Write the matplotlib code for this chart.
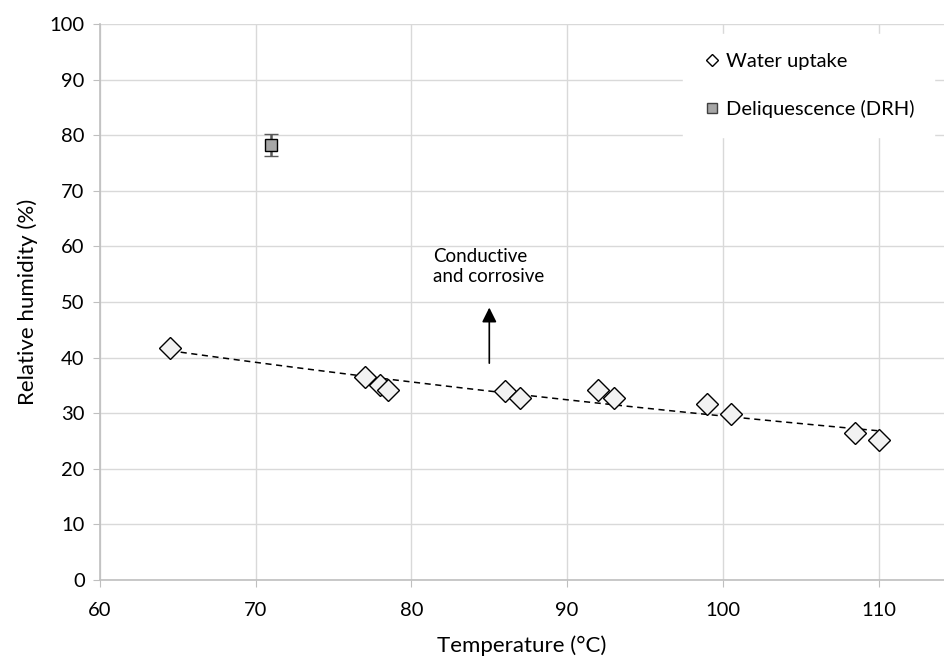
import numpy as np
import matplotlib.pyplot as plt
from matplotlib.lines import Line2D

plt.rcParams['font.family'] = ['Lato', 'DejaVu Sans']

# water uptake measurements
temp_uptake = [64.5, 77, 78, 78.5, 86, 87, 92, 93, 99, 100.5, 108.5, 110]
rh_uptake = [41.7, 36.5, 35.0, 34.2, 34.0, 32.8, 34.1, 32.7, 31.6, 29.9, 26.4, 25.2]

# deliquescence point
temp_drh = [71]
rh_drh = [78.2]
rh_drh_err = [2.0]

x_ticks = [60, 70, 80, 90, 100, 110]
y_ticks = list(range(0, 101, 10))

fig = plt.figure(figsize=(9.44, 6.58), dpi=100)
ax = fig.add_axes([100 / 944, 78 / 658, 844 / 944, 556 / 658])

# exponential trendline like excel
coef = np.polyfit(temp_uptake, np.log(rh_uptake), 1)
xs = np.linspace(min(temp_uptake), max(temp_uptake), 100)
ax.plot(xs, np.exp(np.polyval(coef, xs)), ls=(0, (4, 3)), color='black', lw=1.1, zorder=2)

ax.plot(temp_uptake, rh_uptake, 'D', ms=11, mfc='#f2f2f2', mec='black', mew=1.0, zorder=3)
ax.errorbar(temp_drh, rh_drh, yerr=rh_drh_err, fmt='s', ms=8, mfc='#a6a6a6', mec='black',
            mew=1.0, ecolor='#595959', elinewidth=1.8, capsize=5, capthick=1.8, zorder=3)

ax.annotate('', xy=(85, 49.5), xytext=(85, 38.5),
            arrowprops=dict(arrowstyle='-|>', color='black', lw=1.2, mutation_scale=22))
ax.text(81.4, 59.8, 'Conductive\nand corrosive', fontsize=13.5, va='top', ha='left', linespacing=1.25)

ax.set_xlim(60, 114.2)
ax.set_ylim(0, 100)
ax.set_xticks(x_ticks)
ax.set_yticks(y_ticks)
ax.grid(True, color='#d9d9d9', lw=1)
ax.set_axisbelow(True)
for s in ['top', 'right']:
    ax.spines[s].set_visible(False)
for s in ['left', 'bottom']:
    ax.spines[s].set_color('#bfbfbf')
    ax.spines[s].set_linewidth(1.2)
ax.tick_params(axis='both', colors='#bfbfbf', labelcolor='black', labelsize=14.5, length=5)
ax.tick_params(axis='x', pad=11)
ax.tick_params(axis='y', pad=6)

ax.set_xlabel('Temperature (°C)', fontsize=16, labelpad=12)
ax.set_ylabel('Relative humidity (%)', fontsize=16, labelpad=8)

handles = [
    Line2D([], [], marker='D', ls='none', ms=6.5, mfc='white', mec='black', mew=1.0),
    Line2D([], [], marker='s', ls='none', ms=7, mfc='#a6a6a6', mec='#404040', mew=1.0),
]
leg = ax.legend(handles, ['Water uptake', 'Deliquescence (DRH)'], loc='upper right',
                bbox_to_anchor=(1.0, 1.0), fontsize=14.5, frameon=True, handletextpad=0.2,
                handlelength=1.0, labelspacing=1.45, borderpad=0.95, fancybox=False)
leg.get_frame().set_edgecolor('white')
leg.get_frame().set_facecolor('white')
leg.get_frame().set_alpha(1)

fig.savefig('out.png', dpi=100)
